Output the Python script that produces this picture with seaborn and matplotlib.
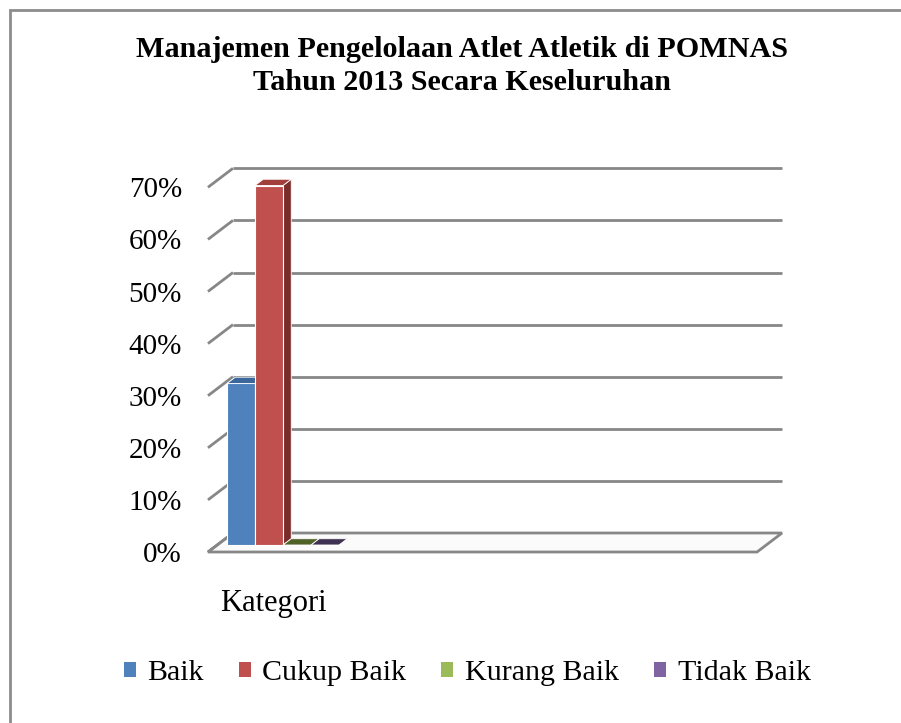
import pandas as pd
import matplotlib.pyplot as plt
import seaborn as sns
from matplotlib.patches import Polygon, Rectangle

# Data
kategori = ['Kategori']
series = ['Baik', 'Cukup Baik', 'Kurang Baik', 'Tidak Baik']
values = [31, 69, 0, 0]
ticks = [0, 10, 20, 30, 40, 50, 60, 70]
tick_labels = [f'{t}%' for t in ticks]

colors = ['#4F81BD', '#C0504D', '#9BBB59', '#8064A2']
top_colors = ['#3B679C', '#A23E3B', '#4F6228', '#3F3151']
side_colors = ['#2E5283', '#7A2C2A', '#3E4E1F', '#2F2540']

df = pd.DataFrame({'cat': kategori * len(series), 'seri': series, 'nilai': values})

sns.set_style('white')
plt.rcParams['font.family'] = ['Liberation Serif', 'DejaVu Serif']
plt.rcParams['text.color'] = 'black'
plt.rcParams['xtick.color'] = 'black'
plt.rcParams['ytick.color'] = 'black'

fig = plt.figure(figsize=(9.01, 7.23), dpi=100)
# axes placed so that 1 x-unit = 140 px and 1 % = 5.21 px
ax = fig.add_axes([200 / 901, (723 - 560) / 723, 590 / 901, 400 / 723])

# 3D oblique helpers (data units)
Dx, Dy = 25 / 140, 19 / 5.21      # full depth of the floor
f = 7 / 19                        # depth of bar front plane
ddx, ddy = 0.33 * Dx, 0.33 * Dy   # bar depth
y0f = -f * Dy
fl, fr = -0.536, 3.386            # floor front edge
grid_c = '#878787'

# floor
floor = Polygon([(fl, y0f), (fr, y0f), (fr + Dx, y0f + Dy), (fl + Dx, y0f + Dy)],
                closed=True, facecolor='#fbfbfb', edgecolor=grid_c, lw=2.0, zorder=0.5)
ax.add_patch(floor)

# walls: left diagonals + back horizontals
for t in ticks:
    yb = t + y0f
    ax.plot([fl, fl + Dx], [yb, yb + Dy], color=grid_c, lw=2.0, zorder=0.6,
            solid_capstyle='butt')
    if t > 0:
        ax.plot([fl + Dx, fr + Dx], [yb + Dy, yb + Dy], color=grid_c, lw=2.0,
                zorder=0.6, solid_capstyle='butt')

sns.barplot(data=df, x='cat', y='nilai', hue='seri', hue_order=series,
            palette=colors, saturation=1, legend=False, ax=ax, width=0.8,
            edgecolor='white', linewidth=0.8)

for i, cont in enumerate(ax.containers):
    for p in cont.patches:
        x0 = p.get_x()
        x1 = x0 + p.get_width()
        h = p.get_height()
        z = 2 + i * 0.1
        p.set_zorder(z + 0.05)
        side = Polygon([(x1, 0), (x1, h), (x1 + ddx, h + ddy), (x1 + ddx, ddy)],
                       closed=True, facecolor=side_colors[i], edgecolor='white',
                       lw=0.6, zorder=z)
        top = Polygon([(x0, h), (x1, h), (x1 + ddx, h + ddy), (x0 + ddx, h + ddy)],
                      closed=True, facecolor=top_colors[i], edgecolor='white',
                      lw=0.6, zorder=z + 0.06)
        ax.add_patch(side)
        ax.add_patch(top)

ax.set_xlim((200 - 283) / 140, (790 - 283) / 140)
ax.set_ylim((545 - 560) / 5.21, (545 - 160) / 5.21)
ax.set_yticks([t + y0f for t in ticks], tick_labels)
ax.set_xticks([-f * Dx], kategori)
ax.tick_params(axis='y', length=0, pad=13, labelsize=21)
ax.tick_params(axis='x', length=0, pad=21, labelsize=22)
ax.set_xlabel('')
ax.set_ylabel('')
for s in ax.spines.values():
    s.set_visible(False)

fig.text(462 / 901, 1 - 66 / 723,
         'Manajemen Pengelolaan Atlet Atletik di POMNAS\nTahun 2013 Secara Keseluruhan',
         ha='center', va='center', fontsize=21.7, fontweight='bold', linespacing=1.27)

handles = [Rectangle((0, 0), 1, 1, facecolor=c, edgecolor='none') for c in colors]
fig.legend(handles, series, loc='center', bbox_to_anchor=(467 / 901, 1 - 673 / 723),
           ncol=4, frameon=False, fontsize=21.6, handlelength=0.4, handleheight=0.4,
           handletextpad=0.4, columnspacing=1.15)

# outer border (left and top visible)
fig.patches.append(Rectangle((10 / 901, -0.1), 1.2, 1 - 10 / 723 + 0.1,
                             transform=fig.transFigure, fill=False,
                             edgecolor='#8c8c8c', lw=2, figure=fig))

plt.savefig('out.png', dpi=100)
